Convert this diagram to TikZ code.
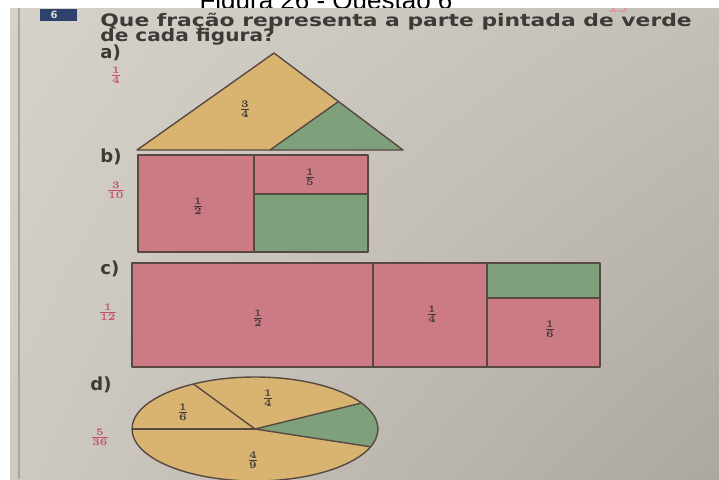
\documentclass[tikz,border=0pt]{standalone}
\usepackage{fontspec}
\usetikzlibrary{shadings}
\setmainfont{DejaVu Sans}
\newfontfamily\capfont{Liberation Sans}
\definecolor{paperA}{RGB}{214,210,201}
\definecolor{paperB}{RGB}{196,192,184}
\definecolor{paperC}{RGB}{206,202,194}
\definecolor{paperD}{RGB}{172,168,161}
\definecolor{ink}{RGB}{62,58,56}
\definecolor{edge}{RGB}{88,72,66}
\definecolor{answer}{RGB}{200,78,104}
\definecolor{yellowpart}{RGB}{216,180,112}
\definecolor{greenpart}{RGB}{126,160,122}
\definecolor{pinkpart}{RGB}{204,122,132}
\definecolor{navy}{RGB}{46,64,108}
\begin{document}
\begin{tikzpicture}[x=.5pt,y=-.5pt,
  part/.style={draw=edge,line width=.7pt,line join=round},
  lab/.style={font=\fontsize{7}{8}\selectfont\boldmath,text=ink,inner sep=0pt},
  ans/.style={font=\fontsize{7.5}{8}\selectfont\boldmath,text=answer,inner sep=0pt},
  item/.style={font=\fontsize{9}{10}\selectfont\bfseries,text=ink,anchor=base west,inner sep=0pt},
  qline/.style={font=\fontsize{8.6}{9}\selectfont\bfseries,text=ink,anchor=base west,inner sep=0pt}]
\useasboundingbox (0,0) rectangle (719,479);
\node[font=\capfont\fontsize{13}{15}\selectfont,anchor=base,inner sep=0pt] (caption) at (326,9) {Figura 26 - Questão 6};
\begin{scope}
\clip (10,8) rectangle (719,479);
\shade[upper left=paperA,upper right=paperB,lower left=paperC,lower right=paperD] (10,8) rectangle (719,479);
\draw[gray!70,line width=.8pt] (19,8) -- (19,479);
% header
\fill[navy] (40,9) rectangle (77,21);
\node[font=\fontsize{5}{6}\selectfont\bfseries,text=gray!30,inner sep=0pt] (num) at (54,15) {6};
\node[font=\fontsize{7}{8}\selectfont\bfseries,text=answer!60,inner sep=0pt] (page) at (618,7) {15};
\node[qline] (q1) at (100,26) {\scalebox{1.27}[1]{Que fração representa a parte pintada de verde}};
\node[qline] (q2) at (100,41) {\scalebox{1.17}[1]{de cada figura?}};
% a)
\node[item] (ia) at (100,58) {a)};
\node[ans] (ra) at (116,75) {$\frac{1}{4}$};
\fill[yellowpart] (137,150) -- (403,150) -- (274,53) -- cycle;
\fill[greenpart] (270,150) -- (403,150) -- (338.5,101.5) -- cycle;
\draw[part] (137,150) -- (403,150) -- (274,53) -- cycle;
\draw[part] (270,150) -- (338.5,101.5);
\node[lab] (ta) at (245,109) {$\frac{3}{4}$};
% b)
\node[item] (ib) at (100,162) {b)};
\node[ans] (rb) at (116,190) {$\frac{3}{10}$};
\fill[pinkpart] (138,155) rectangle (368,252);
\fill[greenpart] (254,194) rectangle (368,252);
\draw[part] (138,155) rectangle (368,252);
\draw[part] (254,155) -- (254,252);
\draw[part] (254,194) -- (368,194);
\node[lab] (tb1) at (198,206) {$\frac{1}{2}$};
\node[lab] (tb2) at (310,177) {$\frac{1}{5}$};
% c)
\node[item] (ic) at (100,274) {c)};
\node[ans] (rc) at (108,312) {$\frac{1}{12}$};
\fill[pinkpart] (132,263) rectangle (600,367);
\fill[greenpart] (487,263) rectangle (600,298);
\draw[part] (132,263) rectangle (600,367);
\foreach \x in {373,487}
  \draw[part] (\x,263) -- (\x,367);
\draw[part] (487,298) -- (600,298);
\node[lab] (tc1) at (258,318) {$\frac{1}{2}$};
\node[lab] (tc2) at (432,314) {$\frac{1}{4}$};
\node[lab] (tc3) at (550,329) {$\frac{1}{6}$};
% d)
\node[item] (id) at (90,390) {d)};
\node[ans] (rd) at (100,437) {$\frac{5}{36}$};
\coordinate (pc) at (255,429);
\fill[yellowpart] (pc) ellipse [x radius=123,y radius=52];
\fill[greenpart] (pc) -- plot[domain=30:-20,samples=25] ({255+123*cos(\x)},{429-52*sin(\x)}) -- cycle;
\foreach \a in {180,120,30,-20}
  \draw[part] (pc) -- ({255+123*cos(\a)},{429-52*sin(\a)});
\draw[part] (pc) ellipse [x radius=123,y radius=52];
\node[lab] (td1) at (183,412) {$\frac{1}{6}$};
\node[lab] (td2) at (268,398) {$\frac{1}{4}$};
\node[lab] (td3) at (253,460) {$\frac{4}{9}$};
\end{scope}
\end{tikzpicture}
\end{document}
